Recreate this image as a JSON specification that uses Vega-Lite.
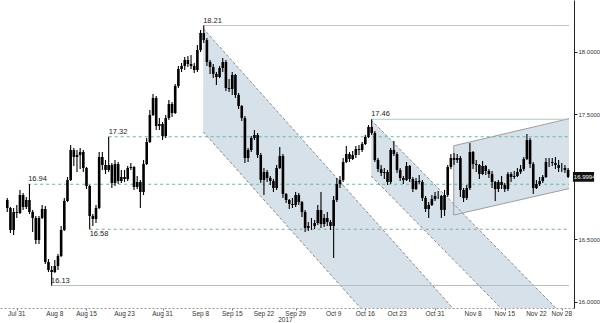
{
 "$schema": "https://vega.github.io/schema/vega-lite/v6.json",
 "width": 574, "height": 308, "padding": 0,
 "background": "white",
 "config": {"view": {"stroke": null}, "font": "Liberation Sans"},
 "datasets": {
  "channels": [
   {"ch": 1, "d": 29.41, "up": 18.187, "lo": 17.36},
   {"ch": 1, "d": 75, "up": 15.597, "lo": 14.77},
   {"ch": 2, "d": 55.92, "up": 17.454, "lo": 17.006},
   {"ch": 2, "d": 90, "up": 15.695, "lo": 15.247},
   {"ch": 3, "d": 68.95, "up": 17.248, "lo": 16.694},
   {"ch": 3, "d": 87.14, "up": 17.465, "lo": 16.905}
  ],
  "dashedlines": [
   {"ch": 1, "side": "up", "d": 29.41, "v": 18.187},
   {"ch": 1, "side": "up", "d": 75, "v": 15.597},
   {"ch": 1, "side": "lo", "d": 29.41, "v": 17.36},
   {"ch": 1, "side": "lo", "d": 75, "v": 14.77},
   {"ch": 2, "side": "up", "d": 55.92, "v": 17.454},
   {"ch": 2, "side": "up", "d": 90, "v": 15.695},
   {"ch": 2, "side": "lo", "d": 55.92, "v": 17.006},
   {"ch": 2, "side": "lo", "d": 90, "v": 15.247}
  ],
  "solidlines": [
   {"side": "up", "d": 68.95, "v": 17.248},
   {"side": "up", "d": 87.14, "v": 17.465},
   {"side": "lo", "d": 68.95, "v": 16.694},
   {"side": "lo", "d": 87.14, "v": 16.905},
   {"side": "left", "d": 68.95, "v": 17.248},
   {"side": "left", "d": 68.95, "v": 16.694}
  ],
  "levels": [
   {"v": 18.21, "start": 29.41, "lab": "18.21", "style": "solid", "side": "above"},
   {"v": 17.46, "start": 55.92, "lab": "17.46", "style": "solid", "side": "above"},
   {"v": 17.32, "start": 14.5, "lab": "17.32", "style": "dashed", "side": "above"},
   {"v": 16.94, "start": 1.8, "lab": "16.94", "style": "dashed", "side": "above"},
   {"v": 16.58, "start": 11.5, "lab": "16.58", "style": "dashed", "side": "below"},
   {"v": 16.13, "start": 5.4, "lab": "16.13", "style": "solid", "side": "above"}
  ],
  "xlabels": [
   {"d": 0, "lab": "Jul 31"}, {"d": 6, "lab": "Aug 8"}, {"d": 11, "lab": "Aug 15"},
   {"d": 17, "lab": "Aug 23"}, {"d": 23, "lab": "Aug 31"}, {"d": 29, "lab": "Sep 8"},
   {"d": 34, "lab": "Sep 15"}, {"d": 39, "lab": "Sep 22"}, {"d": 44, "lab": "Sep 29"},
   {"d": 50, "lab": "Oct 9"}, {"d": 55, "lab": "Oct 16"}, {"d": 60, "lab": "Oct 23"},
   {"d": 66, "lab": "Oct 31"}, {"d": 72, "lab": "Nov 8"}, {"d": 77, "lab": "Nov 15"},
   {"d": 82, "lab": "Nov 22"}, {"d": 86, "lab": "Nov 28"}
  ],
  "candles": [
   {"d":-1.5,"o":16.814,"h":16.83,"l":16.718,"c":16.75},
   {"d":-1,"o":16.75,"h":16.758,"l":16.55,"c":16.574},
   {"d":-0.5,"o":16.574,"h":16.75,"l":16.534,"c":16.718},
   {"d":0,"o":16.718,"h":16.774,"l":16.67,"c":16.71},
   {"d":0.5,"o":16.71,"h":16.894,"l":16.702,"c":16.854},
   {"d":1,"o":16.854,"h":16.87,"l":16.734,"c":16.758},
   {"d":1.5,"o":16.758,"h":16.838,"l":16.742,"c":16.814},
   {"d":2,"o":16.814,"h":16.94,"l":16.702,"c":16.718},
   {"d":2.5,"o":16.718,"h":16.734,"l":16.558,"c":16.67},
   {"d":3,"o":16.67,"h":16.686,"l":16.462,"c":16.494},
   {"d":3.5,"o":16.494,"h":16.686,"l":16.462,"c":16.67},
   {"d":4,"o":16.67,"h":16.774,"l":16.662,"c":16.742},
   {"d":4.5,"o":16.742,"h":16.766,"l":16.302,"c":16.318},
   {"d":5,"o":16.318,"h":16.342,"l":16.238,"c":16.254},
   {"d":5.5,"o":16.254,"h":16.286,"l":16.13,"c":16.238},
   {"d":6,"o":16.238,"h":16.334,"l":16.23,"c":16.286},
   {"d":6.5,"o":16.286,"h":16.382,"l":16.254,"c":16.366},
   {"d":7,"o":16.366,"h":16.606,"l":16.358,"c":16.574},
   {"d":7.5,"o":16.574,"h":16.83,"l":16.566,"c":16.806},
   {"d":8,"o":16.806,"h":16.998,"l":16.798,"c":16.974},
   {"d":8.5,"o":16.974,"h":17.254,"l":16.966,"c":17.214},
   {"d":9,"o":17.214,"h":17.23,"l":17.086,"c":17.158},
   {"d":9.5,"o":17.158,"h":17.214,"l":17.038,"c":17.174},
   {"d":10,"o":17.174,"h":17.23,"l":17.062,"c":17.198},
   {"d":10.5,"o":17.198,"h":17.214,"l":17.038,"c":17.07},
   {"d":11,"o":17.07,"h":17.078,"l":16.902,"c":16.926},
   {"d":11.5,"o":16.926,"h":16.934,"l":16.58,"c":16.686},
   {"d":12,"o":16.686,"h":16.702,"l":16.606,"c":16.662},
   {"d":12.5,"o":16.662,"h":16.774,"l":16.63,"c":16.75},
   {"d":13,"o":16.75,"h":17.198,"l":16.742,"c":17.158},
   {"d":13.5,"o":17.158,"h":17.198,"l":17.054,"c":17.094},
   {"d":14,"o":17.094,"h":17.134,"l":17.022,"c":17.054},
   {"d":14.5,"o":17.054,"h":17.32,"l":17.038,"c":17.094},
   {"d":15,"o":17.094,"h":17.11,"l":16.91,"c":16.95},
   {"d":15.5,"o":16.95,"h":17.134,"l":16.926,"c":17.102},
   {"d":16,"o":17.102,"h":17.118,"l":16.942,"c":16.966},
   {"d":16.5,"o":16.966,"h":17.054,"l":16.95,"c":16.998},
   {"d":17,"o":16.998,"h":17.054,"l":16.958,"c":16.982},
   {"d":17.5,"o":16.982,"h":17.086,"l":16.966,"c":17.07},
   {"d":18,"o":17.07,"h":17.11,"l":17.054,"c":17.078},
   {"d":18.5,"o":17.078,"h":17.086,"l":16.894,"c":16.918},
   {"d":19,"o":16.918,"h":17.006,"l":16.902,"c":16.958},
   {"d":19.5,"o":16.958,"h":16.974,"l":16.75,"c":16.878},
   {"d":20,"o":16.878,"h":17.134,"l":16.854,"c":17.102},
   {"d":20.5,"o":17.102,"h":17.31,"l":17.094,"c":17.278},
   {"d":21,"o":17.278,"h":17.534,"l":17.27,"c":17.494},
   {"d":21.5,"o":17.494,"h":17.662,"l":17.486,"c":17.63},
   {"d":22,"o":17.63,"h":17.646,"l":17.374,"c":17.406},
   {"d":22.5,"o":17.406,"h":17.47,"l":17.374,"c":17.422},
   {"d":23,"o":17.422,"h":17.438,"l":17.294,"c":17.326},
   {"d":23.5,"o":17.326,"h":17.494,"l":17.31,"c":17.47},
   {"d":24,"o":17.47,"h":17.614,"l":17.454,"c":17.582},
   {"d":24.5,"o":17.582,"h":17.598,"l":17.478,"c":17.51},
   {"d":25,"o":17.51,"h":17.742,"l":17.502,"c":17.726},
   {"d":25.5,"o":17.726,"h":17.886,"l":17.71,"c":17.862},
   {"d":26,"o":17.862,"h":17.91,"l":17.838,"c":17.886},
   {"d":26.5,"o":17.886,"h":17.958,"l":17.854,"c":17.934},
   {"d":27,"o":17.934,"h":17.966,"l":17.878,"c":17.902},
   {"d":27.5,"o":17.902,"h":17.974,"l":17.862,"c":17.886},
   {"d":28,"o":17.886,"h":17.91,"l":17.83,"c":17.854},
   {"d":28.5,"o":17.854,"h":18.054,"l":17.838,"c":18.014},
   {"d":29,"o":18.014,"h":18.174,"l":17.998,"c":18.15},
   {"d":29.5,"o":18.15,"h":18.21,"l":18.07,"c":18.094},
   {"d":30,"o":18.094,"h":18.11,"l":17.886,"c":17.918},
   {"d":30.5,"o":17.918,"h":17.934,"l":17.822,"c":17.878},
   {"d":31,"o":17.878,"h":17.902,"l":17.79,"c":17.822},
   {"d":31.5,"o":17.822,"h":17.838,"l":17.734,"c":17.798},
   {"d":32,"o":17.798,"h":17.886,"l":17.79,"c":17.87},
   {"d":32.5,"o":17.87,"h":17.95,"l":17.838,"c":17.918},
   {"d":33,"o":17.918,"h":17.934,"l":17.686,"c":17.71},
   {"d":33.5,"o":17.71,"h":17.782,"l":17.678,"c":17.702},
   {"d":34,"o":17.702,"h":17.838,"l":17.654,"c":17.814},
   {"d":34.5,"o":17.814,"h":17.822,"l":17.63,"c":17.654},
   {"d":35,"o":17.654,"h":17.67,"l":17.542,"c":17.566},
   {"d":35.5,"o":17.566,"h":17.574,"l":17.446,"c":17.47},
   {"d":36,"o":17.47,"h":17.486,"l":17.11,"c":17.15},
   {"d":36.5,"o":17.15,"h":17.23,"l":17.118,"c":17.214},
   {"d":37,"o":17.214,"h":17.326,"l":17.198,"c":17.31},
   {"d":37.5,"o":17.31,"h":17.374,"l":17.294,"c":17.334},
   {"d":38,"o":17.334,"h":17.35,"l":17.15,"c":17.174},
   {"d":38.5,"o":17.174,"h":17.19,"l":16.95,"c":16.974},
   {"d":39,"o":16.974,"h":17.07,"l":16.854,"c":17.038},
   {"d":39.5,"o":17.038,"h":17.054,"l":16.958,"c":16.99},
   {"d":40,"o":16.99,"h":17.006,"l":16.934,"c":16.966},
   {"d":40.5,"o":16.966,"h":16.982,"l":16.878,"c":16.91},
   {"d":41,"o":16.91,"h":17.094,"l":16.894,"c":17.07},
   {"d":41.5,"o":17.07,"h":17.238,"l":17.062,"c":17.166},
   {"d":42,"o":17.166,"h":17.182,"l":16.83,"c":16.862},
   {"d":42.5,"o":16.862,"h":16.87,"l":16.79,"c":16.814},
   {"d":43,"o":16.814,"h":16.822,"l":16.742,"c":16.782},
   {"d":43.5,"o":16.782,"h":16.83,"l":16.75,"c":16.774},
   {"d":44,"o":16.774,"h":16.878,"l":16.758,"c":16.854},
   {"d":44.5,"o":16.854,"h":16.87,"l":16.774,"c":16.798},
   {"d":45,"o":16.798,"h":16.806,"l":16.678,"c":16.718},
   {"d":45.5,"o":16.718,"h":16.734,"l":16.558,"c":16.59},
   {"d":46,"o":16.59,"h":16.638,"l":16.566,"c":16.606},
   {"d":46.5,"o":16.606,"h":16.67,"l":16.574,"c":16.606},
   {"d":47,"o":16.606,"h":16.654,"l":16.582,"c":16.63},
   {"d":47.5,"o":16.63,"h":16.774,"l":16.614,"c":16.734},
   {"d":48,"o":16.734,"h":16.878,"l":16.59,"c":16.622},
   {"d":48.5,"o":16.622,"h":16.702,"l":16.598,"c":16.67},
   {"d":49,"o":16.67,"h":16.718,"l":16.606,"c":16.638},
   {"d":49.5,"o":16.638,"h":16.654,"l":16.574,"c":16.606},
   {"d":50,"o":16.606,"h":16.846,"l":16.35,"c":16.814},
   {"d":50.5,"o":16.814,"h":16.99,"l":16.798,"c":16.942},
   {"d":51,"o":16.942,"h":17.006,"l":16.91,"c":16.974},
   {"d":51.5,"o":16.974,"h":17.15,"l":16.958,"c":17.118},
   {"d":52,"o":17.118,"h":17.246,"l":17.11,"c":17.182},
   {"d":52.5,"o":17.182,"h":17.198,"l":17.118,"c":17.142},
   {"d":53,"o":17.142,"h":17.206,"l":17.134,"c":17.174},
   {"d":53.5,"o":17.174,"h":17.246,"l":17.15,"c":17.222},
   {"d":54,"o":17.222,"h":17.254,"l":17.174,"c":17.214},
   {"d":54.5,"o":17.214,"h":17.278,"l":17.198,"c":17.262},
   {"d":55,"o":17.262,"h":17.334,"l":17.254,"c":17.318},
   {"d":55.5,"o":17.318,"h":17.414,"l":17.31,"c":17.398},
   {"d":56,"o":17.398,"h":17.46,"l":17.334,"c":17.35},
   {"d":56.5,"o":17.35,"h":17.366,"l":17.118,"c":17.134},
   {"d":57,"o":17.134,"h":17.15,"l":17.038,"c":17.062},
   {"d":57.5,"o":17.062,"h":17.094,"l":17.006,"c":17.03},
   {"d":58,"o":17.03,"h":17.07,"l":16.982,"c":17.038},
   {"d":58.5,"o":17.038,"h":17.054,"l":16.934,"c":16.958},
   {"d":59,"o":16.958,"h":17.23,"l":16.942,"c":17.214},
   {"d":59.5,"o":17.214,"h":17.286,"l":17.166,"c":17.182},
   {"d":60,"o":17.182,"h":17.198,"l":17.03,"c":17.054},
   {"d":60.5,"o":17.054,"h":17.07,"l":16.966,"c":16.99},
   {"d":61,"o":16.99,"h":17.006,"l":16.942,"c":16.974},
   {"d":61.5,"o":16.974,"h":17.118,"l":16.966,"c":17.086},
   {"d":62,"o":17.086,"h":17.094,"l":16.958,"c":16.982},
   {"d":62.5,"o":16.982,"h":16.998,"l":16.878,"c":16.902},
   {"d":63,"o":16.902,"h":16.99,"l":16.894,"c":16.966},
   {"d":63.5,"o":16.966,"h":17.014,"l":16.942,"c":16.958},
   {"d":64,"o":16.958,"h":16.974,"l":16.806,"c":16.83},
   {"d":64.5,"o":16.83,"h":16.846,"l":16.718,"c":16.742},
   {"d":65,"o":16.742,"h":16.798,"l":16.67,"c":16.774},
   {"d":65.5,"o":16.774,"h":16.854,"l":16.766,"c":16.822},
   {"d":66,"o":16.822,"h":16.878,"l":16.806,"c":16.846},
   {"d":66.5,"o":16.846,"h":16.886,"l":16.822,"c":16.846},
   {"d":67,"o":16.846,"h":16.854,"l":16.67,"c":16.734},
   {"d":67.5,"o":16.734,"h":16.894,"l":16.686,"c":16.854},
   {"d":68,"o":16.854,"h":17.094,"l":16.838,"c":17.078},
   {"d":68.5,"o":17.078,"h":17.182,"l":17.062,"c":17.15},
   {"d":69,"o":17.15,"h":17.19,"l":17.094,"c":17.134},
   {"d":69.5,"o":17.134,"h":17.182,"l":17.11,"c":17.15},
   {"d":70,"o":17.15,"h":17.166,"l":16.838,"c":16.894},
   {"d":70.5,"o":16.894,"h":16.91,"l":16.798,"c":16.83},
   {"d":71,"o":16.83,"h":16.934,"l":16.814,"c":16.91},
   {"d":71.5,"o":16.91,"h":17.27,"l":16.894,"c":17.198},
   {"d":72,"o":17.198,"h":17.206,"l":17.062,"c":17.102},
   {"d":72.5,"o":17.102,"h":17.134,"l":17.038,"c":17.094},
   {"d":73,"o":17.094,"h":17.102,"l":16.982,"c":17.022},
   {"d":73.5,"o":17.022,"h":17.126,"l":17.014,"c":17.086},
   {"d":74,"o":17.086,"h":17.094,"l":17.014,"c":17.046},
   {"d":74.5,"o":17.046,"h":17.062,"l":16.99,"c":17.022},
   {"d":75,"o":17.022,"h":17.046,"l":16.91,"c":16.958},
   {"d":75.5,"o":16.958,"h":16.966,"l":16.806,"c":16.902},
   {"d":76,"o":16.902,"h":16.974,"l":16.878,"c":16.958},
   {"d":76.5,"o":16.958,"h":17.006,"l":16.902,"c":16.934},
   {"d":77,"o":16.934,"h":16.95,"l":16.878,"c":16.902},
   {"d":77.5,"o":16.902,"h":17.038,"l":16.886,"c":17.022},
   {"d":78,"o":17.022,"h":17.038,"l":16.958,"c":16.998},
   {"d":78.5,"o":16.998,"h":17.046,"l":16.982,"c":17.006},
   {"d":79,"o":17.006,"h":17.07,"l":16.998,"c":17.038},
   {"d":79.5,"o":17.038,"h":17.094,"l":17.022,"c":17.062},
   {"d":80,"o":17.062,"h":17.158,"l":17.046,"c":17.142},
   {"d":80.5,"o":17.142,"h":17.342,"l":17.134,"c":17.294},
   {"d":81,"o":17.294,"h":17.31,"l":17.07,"c":17.102},
   {"d":81.5,"o":17.102,"h":17.118,"l":16.862,"c":16.91},
   {"d":82,"o":16.91,"h":16.974,"l":16.902,"c":16.942},
   {"d":82.5,"o":16.942,"h":16.998,"l":16.926,"c":16.966},
   {"d":83,"o":16.966,"h":17.014,"l":16.95,"c":16.998},
   {"d":83.5,"o":16.998,"h":17.15,"l":16.99,"c":17.118},
   {"d":84,"o":17.118,"h":17.15,"l":17.078,"c":17.118},
   {"d":84.5,"o":17.118,"h":17.15,"l":17.086,"c":17.11},
   {"d":85,"o":17.11,"h":17.158,"l":17.062,"c":17.094},
   {"d":85.5,"o":17.094,"h":17.134,"l":17.038,"c":17.07},
   {"d":86,"o":17.07,"h":17.11,"l":17.038,"c":17.07},
   {"d":86.5,"o":17.07,"h":17.094,"l":17.03,"c":17.054},
   {"d":87,"o":17.054,"h":17.07,"l":16.99,"c":16.9994}
  ],
  "last": [{"last": 16.9994}],
  "year": [{"year": "2017"}]
 },
 "layer": [
  {
   "data": {"name": "channels"},
   "mark": {"type": "area", "color": "#d7e1e9", "clip": true},
   "encoding": {
    "x": {"field": "d", "type": "quantitative", "title": null,
     "scale": {"domain": [-1.86, 87.14], "nice": false, "zero": false},
     "axis": {"title": null, "orient": "bottom", "grid": false, "labels": false,
      "values": [0,6,11,17,23,29,34,39,44,50,55,60,66,72,77,82,86],
      "domain": true, "domainColor": "#999999", "domainDash": [2, 2], "domainWidth": 1,
      "tickColor": "#777777", "tickSize": 2}},
    "y": {"field": "up", "type": "quantitative", "title": null,
     "scale": {"domain": [15.95, 18.414], "nice": false, "zero": false},
     "axis": {"title": null, "orient": "right", "grid": false,
      "values": [16, 16.25, 16.5, 16.75, 17, 17.25, 17.5, 17.75, 18, 18.25],
      "labelExpr": "(datum.value == 16 || datum.value == 16.5 || datum.value == 17.5 || datum.value == 18) ? format(datum.value, '.4f') : ''",
      "domain": true, "domainColor": "#222222", "tickColor": "#222222", "tickSize": 3,
      "labelFontSize": 6, "labelColor": "#333333",
      "labelPadding": 1, "labelOverlap": false, "labelFlush": false}},
    "y2": {"field": "lo"},
    "detail": {"field": "ch", "type": "nominal"}
   }
  },
  {
   "data": {"name": "dashedlines"},
   "mark": {"type": "line", "color": "#707070", "strokeWidth": 0.8, "strokeDash": [3, 2], "clip": true},
   "encoding": {
    "x": {"field": "d", "type": "quantitative", "title": null},
    "y": {"field": "v", "type": "quantitative", "title": null},
    "detail": [{"field": "ch", "type": "nominal"}, {"field": "side", "type": "nominal"}]
   }
  },
  {
   "data": {"name": "solidlines"},
   "mark": {"type": "line", "color": "#8a8a8a", "strokeWidth": 0.8, "clip": true},
   "encoding": {
    "x": {"field": "d", "type": "quantitative", "title": null},
    "y": {"field": "v", "type": "quantitative", "title": null},
    "detail": {"field": "side", "type": "nominal"}
   }
  },
  {
   "data": {"name": "levels"},
   "mark": {"type": "rule", "strokeWidth": 1},
   "encoding": {
    "x": {"field": "start", "type": "quantitative", "title": null},
    "x2": {"datum": 87.14},
    "y": {"field": "v", "type": "quantitative", "title": null},
    "color": {"field": "style", "type": "nominal", "scale": {"domain": ["solid", "dashed"], "range": ["#8fd1b9", "#6db3a2"]}, "legend": null},
    "strokeDash": {"field": "style", "type": "nominal", "scale": {"domain": ["solid", "dashed"], "range": [[1, 0], [3, 3]]}, "legend": null}
   }
  },
  {
   "data": {"name": "levels"},
   "transform": [{"filter": "datum.side == 'above'"}],
   "mark": {"type": "text", "align": "left", "baseline": "bottom", "dy": -1, "fontSize": 7.5, "color": "#222222"},
   "encoding": {
    "x": {"field": "start", "type": "quantitative", "title": null},
    "y": {"field": "v", "type": "quantitative", "title": null},
    "text": {"field": "lab"}
   }
  },
  {
   "data": {"name": "levels"},
   "transform": [{"filter": "datum.side == 'below'"}],
   "mark": {"type": "text", "align": "left", "baseline": "top", "dy": 1, "fontSize": 7.5, "color": "#222222"},
   "encoding": {
    "x": {"field": "start", "type": "quantitative", "title": null},
    "y": {"field": "v", "type": "quantitative", "title": null},
    "text": {"field": "lab"}
   }
  },
  {
   "data": {"name": "candles"},
   "mark": {"type": "rule", "color": "#000000", "strokeWidth": 1.1},
   "encoding": {
    "x": {"field": "d", "type": "quantitative", "title": null},
    "y": {"field": "l", "type": "quantitative", "title": null},
    "y2": {"field": "h"}
   }
  },
  {
   "data": {"name": "candles"},
   "mark": {"type": "bar", "color": "#000000", "width": 2.6},
   "encoding": {
    "x": {"field": "d", "type": "quantitative", "title": null},
    "y": {"field": "o", "type": "quantitative", "title": null},
    "y2": {"field": "c"}
   }
  },
  {
   "data": {"name": "xlabels"},
   "mark": {"type": "text", "color": "#333333", "align": "center", "baseline": "middle", "fontSize": 6.5, "clip": false},
   "encoding": {
    "x": {"field": "d", "type": "quantitative", "title": null},
    "y": {"datum": 15.905, "type": "quantitative", "title": null},
    "text": {"field": "lab"}
   }
  },
  {
   "data": {"name": "last"},
   "mark": {"type": "rect", "color": "#111111", "clip": false},
   "encoding": {
    "x": {"datum": 87.76, "type": "quantitative", "title": null},
    "x2": {"datum": 91.1},
    "y": {"datum": 17.038, "type": "quantitative", "title": null},
    "y2": {"datum": 16.96}
   }
  },
  {
   "data": {"name": "last"},
   "mark": {"type": "text", "color": "#ffffff", "align": "left", "baseline": "middle", "fontSize": 6, "clip": false},
   "encoding": {
    "x": {"datum": 87.9, "type": "quantitative", "title": null},
    "y": {"field": "last", "type": "quantitative", "title": null},
    "text": {"field": "last", "type": "quantitative", "format": ".4f"}
   }
  },
  {
   "data": {"name": "year"},
   "mark": {"type": "text", "color": "#333333", "align": "center", "baseline": "middle", "fontSize": 6.5, "clip": false},
   "encoding": {
    "x": {"datum": 42.4, "type": "quantitative", "title": null},
    "y": {"datum": 15.855, "type": "quantitative", "title": null},
    "text": {"field": "year"}
   }
  }
 ]
}
